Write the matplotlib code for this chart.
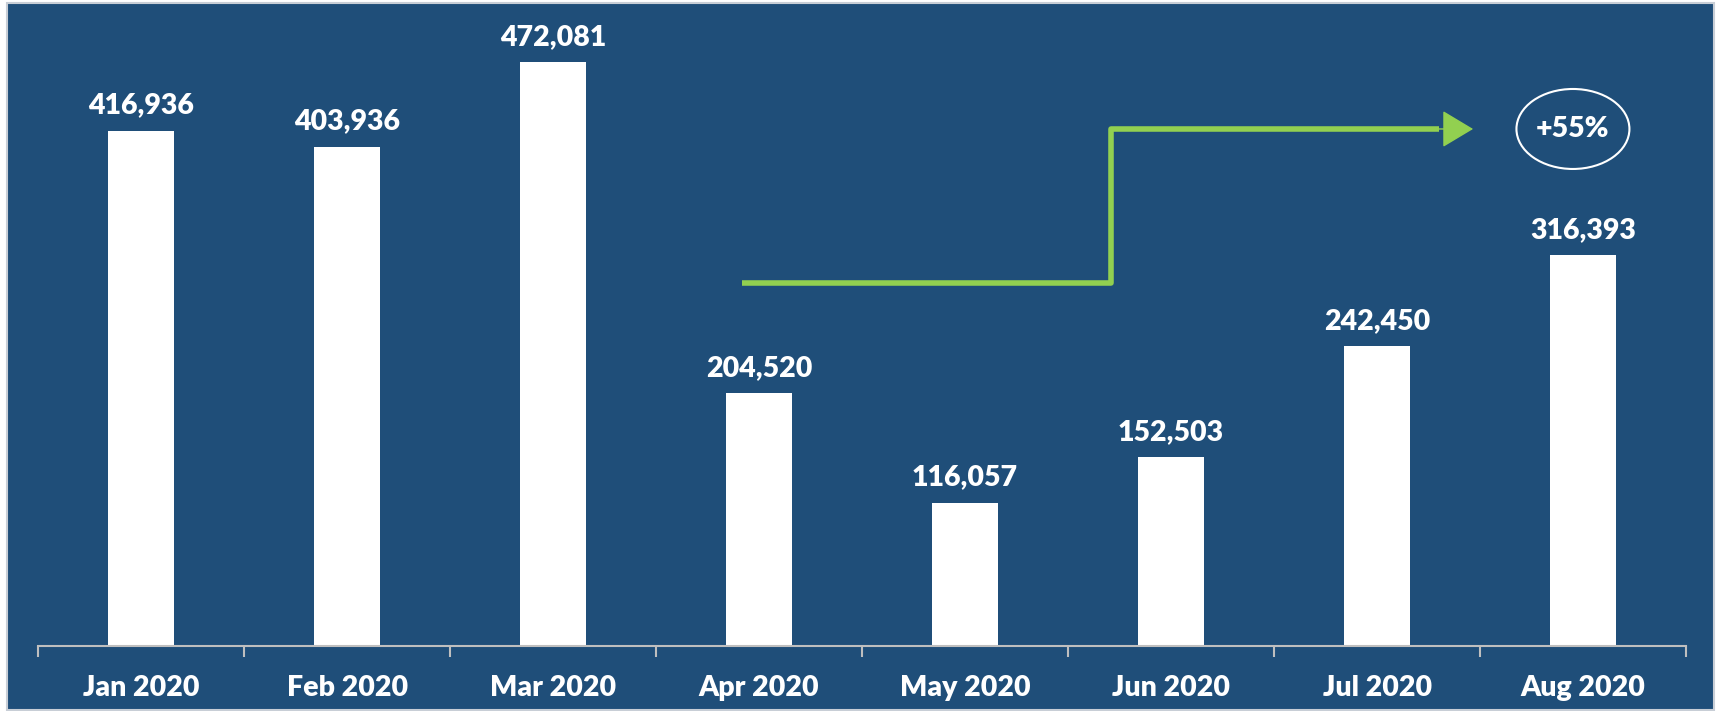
import matplotlib
matplotlib.use("Agg")
import matplotlib.pyplot as plt
from matplotlib.patches import Ellipse, Rectangle

# data
months = ["Jan 2020", "Feb 2020", "Mar 2020", "Apr 2020",
          "May 2020", "Jun 2020", "Jul 2020", "Aug 2020"]
visits = [416936, 403936, 472081, 204520, 116057, 152503, 242450, 316393]
growth_label = "+55%"

BG = "#1F4E79"
GREEN = "#92D050"
AXIS = "#BFBFBF"
plt.rcParams["font.family"] = ["Lato", "DejaVu Sans"]
W = "heavy"

fig = plt.figure(figsize=(17.17, 7.11), dpi=100)
fig.patch.set_facecolor("white")
# dark panel with thin light frame
fig.add_artist(Rectangle((0.004, 0.002), 0.994, 0.994, transform=fig.transFigure,
                         facecolor=BG, edgecolor="#C8CED6", linewidth=1.5, zorder=0))

ax = fig.add_axes([0.0222, 0.0914, 0.9598, 0.899])
ax.set_facecolor("none")
x = list(range(len(months)))
ax.bar(x, visits, width=0.32, color="white", zorder=2)
ax.set_xlim(-0.5, len(months) - 0.5)
ax.set_ylim(0, 517000)

for xi, v in zip(x, visits):
    ax.annotate(f"{v:,}", (xi, v), xytext=(0, 18), textcoords="offset points",
                ha="center", va="center", color="white", fontsize=20.5, fontweight=W)

# axis styling
for s in ("top", "right", "left"):
    ax.spines[s].set_visible(False)
ax.spines["bottom"].set_color(AXIS)
ax.spines["bottom"].set_linewidth(1.5)
ax.set_yticks([])
ax.set_xticks([i - 0.5 for i in range(len(months) + 1)], minor=False)
ax.set_xticklabels([])
ax.tick_params(axis="x", which="major", length=8, width=1.5, color=AXIS)
ax.set_xticks(x, minor=True)
ax.set_xticklabels(months, minor=True)
ax.tick_params(axis="x", which="minor", length=0, pad=21, labelsize=20.5, labelcolor="white")
for lbl in ax.get_xticklabels(minor=True):
    lbl.set_fontweight(W)

# step arrow showing recovery
ax.plot([2.917, 4.709, 4.709, 6.3], [293600, 293600, 418200, 418200],
        color=GREEN, lw=4, solid_joinstyle="round", solid_capstyle="butt", zorder=3)
ax.annotate("", xy=(6.466, 418200), xytext=(6.28, 418200),
            arrowprops=dict(arrowstyle="-|>,head_length=1.25,head_width=0.75",
                            mutation_scale=16, color=GREEN, lw=1, shrinkA=0, shrinkB=0),
            zorder=3)

# growth callout
fig.add_artist(Ellipse((0.9161, 0.8186), 0.0658, 0.1125, transform=fig.transFigure,
                       facecolor="none", edgecolor="white", linewidth=1.5, zorder=4))
fig.text(0.9161, 0.8186, growth_label, ha="center", va="center", color="white",
         fontsize=20.5, fontweight=W)

fig.savefig("out.png", dpi=100, facecolor=fig.get_facecolor())
